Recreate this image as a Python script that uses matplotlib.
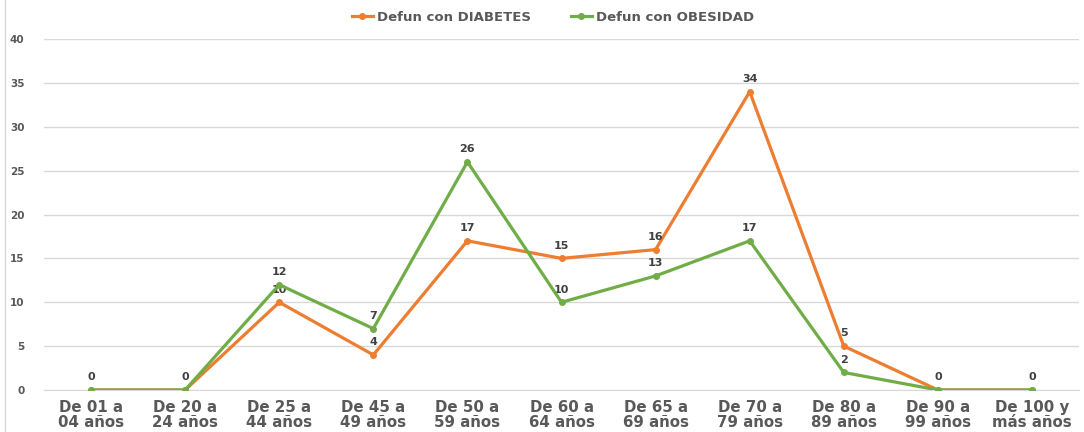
import matplotlib
matplotlib.use("Agg")
import matplotlib.pyplot as plt

categories = ["De 01 a\n04 años", "De 20 a\n24 años", "De 25 a\n44 años", "De 45 a\n49 años",
              "De 50 a\n59 años", "De 60 a\n64 años", "De 65 a\n69 años", "De 70 a\n79 años",
              "De 80 a\n89 años", "De 90 a\n99 años", "De 100 y\nmás años"]
diabetes = [0, 0, 10, 4, 17, 15, 16, 34, 5, 0, 0]
obesidad = [0, 0, 12, 7, 26, 10, 13, 17, 2, 0, 0]
yticks = [0, 5, 10, 15, 20, 25, 30, 35, 40]

ORANGE = "#ED7D31"
GREEN = "#70AD47"
TXT = "#595959"

fig = plt.figure(figsize=(10.84, 4.32), dpi=100)
ax = fig.add_axes([0.0406, 0.0972, 0.9548, 0.8125])

x = list(range(len(categories)))
ax.plot(x, diabetes, color=ORANGE, lw=2.3, marker="o", ms=4, label="Defun con DIABETES", zorder=3)
ax.plot(x, obesidad, color=GREEN, lw=2.3, marker="o", ms=4, label="Defun con OBESIDAD", zorder=4)

def lab(i, v):
    ax.annotate(str(v), (i, v), xytext=(0, 5.5), textcoords="offset points",
                ha="center", va="bottom", fontsize=8, fontweight="bold", color="#404040")

for i, (d, o) in enumerate(zip(diabetes, obesidad)):
    lab(i, d)
    if d != o:
        lab(i, o)

ax.set_xlim(-0.5, len(categories) - 0.5)
ax.set_ylim(0, 40)
ax.set_yticks(yticks)
ax.set_xticks(x)
ax.set_xticklabels(categories, fontsize=10.8, fontweight="bold", color=TXT, linespacing=1.0)
for t in ax.get_yticklabels():
    t.set_fontsize(7.5)
    t.set_fontweight("bold")
    t.set_color(TXT)
ax.tick_params(axis="both", length=0)
ax.tick_params(axis="y", pad=14)
ax.tick_params(axis="x", pad=7)
ax.grid(axis="y", color="#D9D9D9", lw=1)
ax.set_axisbelow(True)
for s in ["top", "right", "left"]:
    ax.spines[s].set_visible(False)
ax.spines["bottom"].set_color("#D9D9D9")

leg = fig.legend(loc="center", bbox_to_anchor=(0.51, 0.96), ncol=2, frameon=False,
                 prop={"size": 9.5, "weight": "bold"}, handlelength=1.6, handletextpad=0.3,
                 columnspacing=3)
for t in leg.get_texts():
    t.set_color(TXT)

fig.patches.append(plt.Line2D([0.005, 0.005], [0, 1], transform=fig.transFigure, color="#D9D9D9", lw=1))

fig.savefig("out.png", dpi=100)
